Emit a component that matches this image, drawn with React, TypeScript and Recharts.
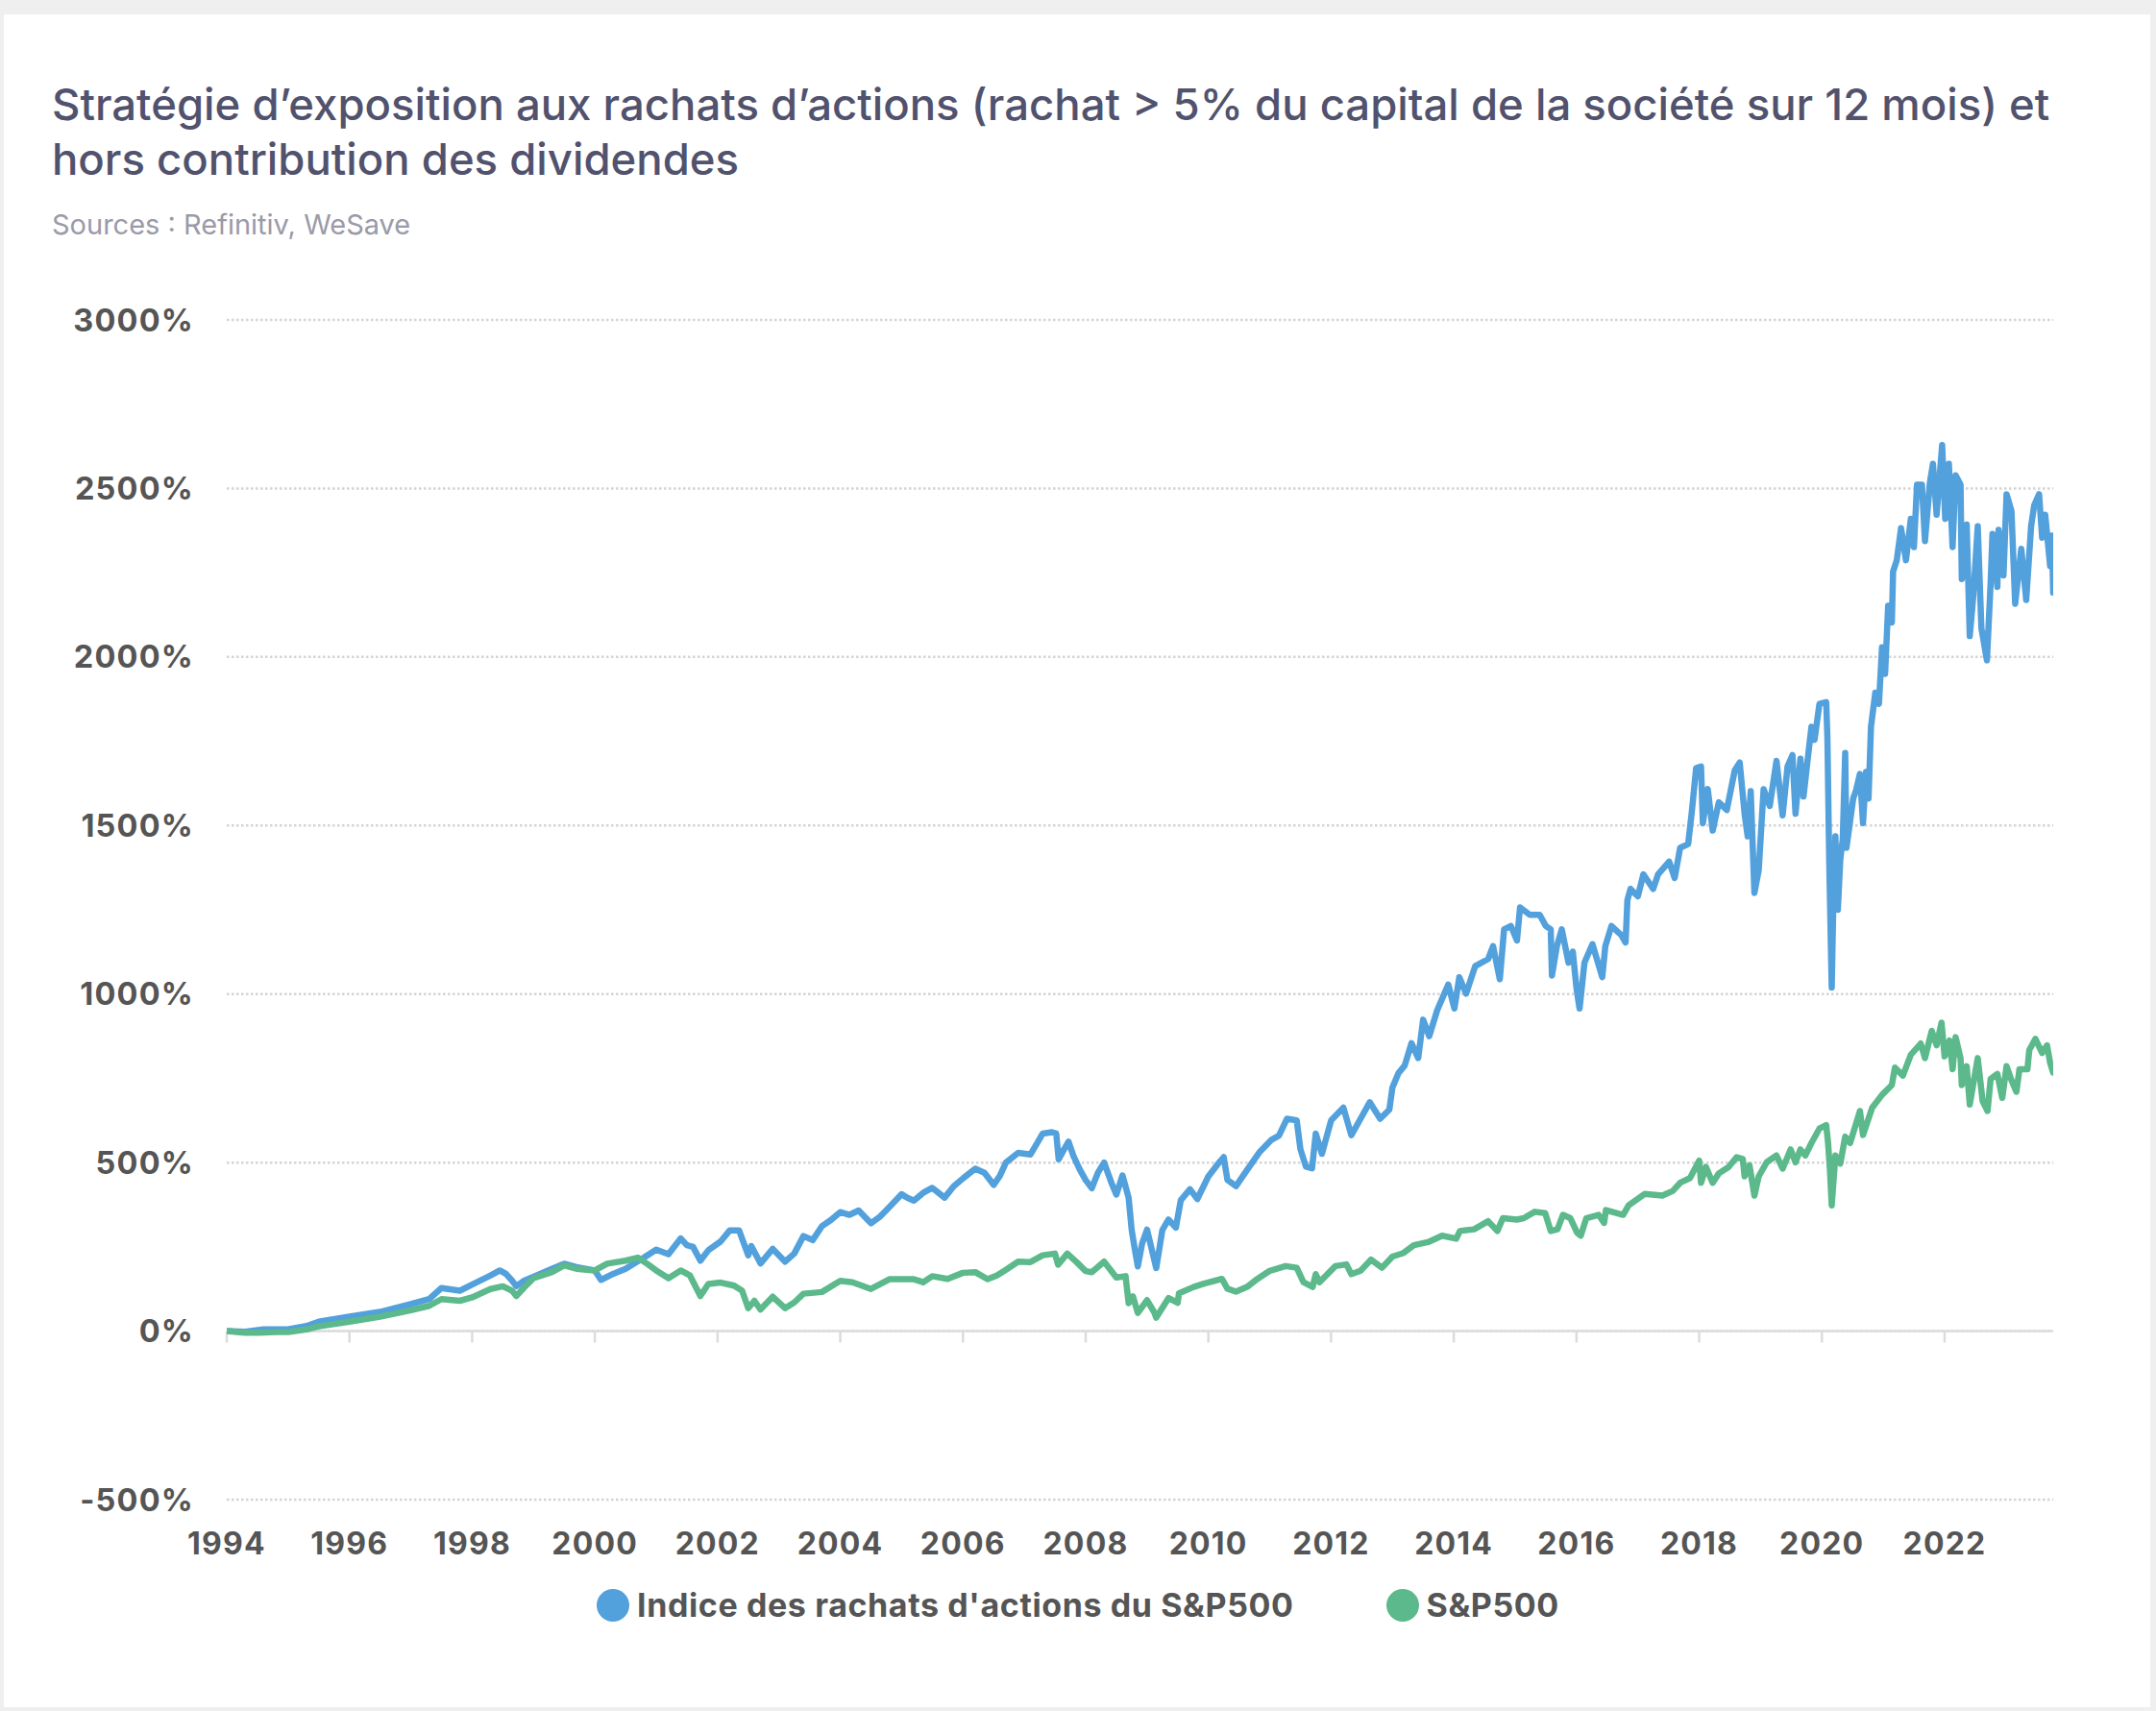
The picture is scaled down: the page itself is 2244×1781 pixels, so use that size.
import React from 'react';
import { LineChart, Line, XAxis, YAxis, CartesianGrid, ReferenceLine, Legend } from 'recharts';

// [year, %]
const buybackIndex: [number, number][] = [
  [1994.0, 0], [1994.3, -2], [1994.6, 5], [1995.0, 5], [1995.3, 15], [1995.5, 28], [1996.0, 43],
  [1996.5, 57], [1997.0, 80], [1997.3, 95], [1997.5, 128], [1997.8, 120], [1998.0, 138],
  [1998.3, 165], [1998.45, 180], [1998.55, 170], [1998.65, 150], [1998.72, 133], [1998.85, 150],
  [1999.0, 161], [1999.3, 185], [1999.5, 200], [1999.7, 190], [2000.0, 180], [2000.1, 152],
  [2000.3, 170], [2000.5, 185], [2000.8, 218], [2001.0, 242], [2001.2, 228], [2001.4, 275],
  [2001.5, 255], [2001.6, 250], [2001.72, 209], [2001.85, 240], [2002.05, 266], [2002.2, 299],
  [2002.35, 299], [2002.5, 225], [2002.55, 252], [2002.7, 201], [2002.9, 244], [2003.1, 206],
  [2003.25, 230], [2003.4, 282], [2003.55, 270], [2003.7, 311], [2003.85, 330], [2004.0, 353],
  [2004.15, 345], [2004.3, 358], [2004.5, 320], [2004.65, 340], [2004.8, 368], [2005.0, 406],
  [2005.1, 395], [2005.2, 387], [2005.35, 410], [2005.5, 425], [2005.7, 396], [2005.85, 430],
  [2006.0, 453], [2006.2, 482], [2006.35, 470], [2006.5, 434], [2006.6, 460], [2006.7, 500],
  [2006.9, 529], [2007.1, 524], [2007.2, 555], [2007.3, 586], [2007.45, 590], [2007.52, 586],
  [2007.56, 510], [2007.65, 540], [2007.72, 562], [2007.8, 520], [2007.9, 481], [2008.0, 448],
  [2008.1, 424], [2008.2, 470], [2008.3, 500], [2008.42, 440], [2008.5, 405], [2008.6, 462],
  [2008.7, 396], [2008.75, 300], [2008.8, 244], [2008.85, 192], [2008.92, 260], [2009.0, 301],
  [2009.08, 240], [2009.15, 187], [2009.25, 300], [2009.35, 331], [2009.47, 307], [2009.55, 388],
  [2009.7, 421], [2009.82, 392], [2010.0, 459], [2010.16, 497], [2010.25, 516], [2010.31, 449],
  [2010.45, 430], [2010.63, 478], [2010.83, 530], [2011.03, 568], [2011.15, 580], [2011.28, 630],
  [2011.44, 625], [2011.5, 540], [2011.59, 488], [2011.69, 483], [2011.75, 586], [2011.85, 526],
  [2012.0, 625], [2012.2, 663], [2012.33, 581], [2012.48, 630], [2012.63, 679], [2012.8, 630],
  [2012.95, 657], [2013.0, 723], [2013.1, 766], [2013.2, 788], [2013.31, 854], [2013.42, 810],
  [2013.5, 924], [2013.6, 875], [2013.73, 952], [2013.91, 1028], [2014.01, 957], [2014.09, 1050],
  [2014.2, 1001], [2014.35, 1083], [2014.56, 1104], [2014.64, 1142], [2014.75, 1044], [2014.82, 1192],
  [2014.93, 1202], [2015.03, 1159], [2015.08, 1257], [2015.24, 1235], [2015.4, 1235], [2015.5, 1202],
  [2015.58, 1192], [2015.6, 1055], [2015.68, 1142], [2015.76, 1192], [2015.87, 1093], [2015.94, 1126],
  [2016.0, 1017], [2016.05, 957], [2016.13, 1093], [2016.26, 1148], [2016.42, 1050], [2016.47, 1142],
  [2016.57, 1202], [2016.73, 1175], [2016.8, 1153], [2016.83, 1279], [2016.88, 1312], [2017.0, 1290],
  [2017.09, 1355], [2017.25, 1312], [2017.33, 1355], [2017.51, 1393], [2017.6, 1344], [2017.69, 1434],
  [2017.82, 1445], [2017.88, 1541], [2017.95, 1670], [2018.03, 1675], [2018.06, 1507], [2018.14, 1608],
  [2018.22, 1485], [2018.32, 1569], [2018.45, 1546], [2018.58, 1664], [2018.66, 1687], [2018.74, 1535],
  [2018.79, 1468], [2018.84, 1602], [2018.9, 1300], [2018.97, 1367], [2019.05, 1608], [2019.15, 1558],
  [2019.26, 1692], [2019.36, 1530], [2019.44, 1675], [2019.52, 1709], [2019.57, 1535], [2019.65, 1698],
  [2019.7, 1586], [2019.78, 1715], [2019.83, 1793], [2019.88, 1754], [2019.96, 1861], [2020.07, 1866],
  [2020.09, 1760], [2020.12, 1389], [2020.16, 1019], [2020.19, 1300], [2020.22, 1468], [2020.26, 1250],
  [2020.3, 1400], [2020.34, 1460], [2020.38, 1715], [2020.4, 1434], [2020.45, 1500], [2020.51, 1580],
  [2020.55, 1600], [2020.62, 1653], [2020.67, 1507], [2020.72, 1659], [2020.76, 1580], [2020.8, 1793],
  [2020.87, 1894], [2020.93, 1861], [2020.98, 2029], [2021.03, 1950], [2021.08, 2152], [2021.14, 2102],
  [2021.16, 2253], [2021.22, 2287], [2021.29, 2382], [2021.37, 2287], [2021.45, 2410], [2021.5, 2326],
  [2021.55, 2511], [2021.63, 2511], [2021.68, 2344], [2021.76, 2517], [2021.81, 2573], [2021.87, 2422],
  [2021.96, 2629], [2022.01, 2410], [2022.07, 2573], [2022.13, 2326], [2022.18, 2539], [2022.26, 2511],
  [2022.28, 2231], [2022.36, 2393], [2022.41, 2062], [2022.47, 2186], [2022.54, 2388], [2022.6, 2085],
  [2022.69, 1990], [2022.75, 2219], [2022.78, 2365], [2022.86, 2208], [2022.88, 2377], [2022.96, 2242],
  [2023.01, 2483], [2023.09, 2433], [2023.15, 2158], [2023.25, 2321], [2023.33, 2169], [2023.41, 2388],
  [2023.46, 2450], [2023.54, 2483], [2023.59, 2354], [2023.64, 2422], [2023.72, 2270], [2023.75, 2360],
  [2023.77, 2191],
];

const sp500: [number, number][] = [
  [1994.0, 0], [1994.3, -5], [1994.5, -5], [1994.8, -3], [1995.0, -3], [1995.3, 5], [1995.5, 14],
  [1996.0, 28], [1996.5, 43], [1997.0, 62], [1997.3, 75], [1997.5, 95], [1997.8, 90], [1998.0, 100],
  [1998.3, 125], [1998.5, 133], [1998.65, 120], [1998.72, 104], [1998.85, 130], [1999.0, 157],
  [1999.3, 175], [1999.5, 195], [1999.7, 185], [2000.0, 180], [2000.2, 200], [2000.5, 209],
  [2000.7, 218], [2000.85, 200], [2001.0, 180], [2001.2, 157], [2001.4, 180], [2001.55, 165],
  [2001.72, 104], [2001.85, 140], [2002.05, 144], [2002.27, 135], [2002.4, 120], [2002.5, 68],
  [2002.6, 90], [2002.7, 64], [2002.9, 102], [2003.1, 68], [2003.25, 85], [2003.4, 111], [2003.7, 116],
  [2004.0, 149], [2004.2, 145], [2004.5, 125], [2004.8, 154], [2005.2, 154], [2005.35, 145],
  [2005.5, 163], [2005.75, 155], [2006.0, 173], [2006.2, 175], [2006.4, 154], [2006.55, 165],
  [2006.7, 182], [2006.9, 206], [2007.1, 205], [2007.3, 225], [2007.5, 230], [2007.55, 197],
  [2007.7, 230], [2007.85, 205], [2008.0, 178], [2008.1, 175], [2008.3, 206], [2008.5, 159],
  [2008.65, 163], [2008.7, 83], [2008.77, 103], [2008.85, 54], [2009.0, 92], [2009.12, 55],
  [2009.15, 40], [2009.35, 98], [2009.5, 84], [2009.52, 112], [2009.76, 131], [2009.93, 141],
  [2010.22, 155], [2010.31, 126], [2010.45, 117], [2010.63, 131], [2010.8, 155], [2011.0, 179],
  [2011.26, 193], [2011.44, 188], [2011.55, 145], [2011.7, 131], [2011.75, 169], [2011.81, 145],
  [2012.07, 193], [2012.25, 198], [2012.33, 169], [2012.48, 179], [2012.65, 212], [2012.83, 188],
  [2013.0, 221], [2013.17, 231], [2013.35, 255], [2013.58, 264], [2013.81, 283], [2014.04, 274],
  [2014.1, 297], [2014.33, 302], [2014.56, 326], [2014.71, 297], [2014.8, 335], [2015.03, 331],
  [2015.14, 335], [2015.32, 354], [2015.49, 350], [2015.58, 297], [2015.69, 302], [2015.78, 345],
  [2015.9, 335], [2016.01, 292], [2016.07, 283], [2016.16, 335], [2016.36, 345], [2016.45, 321],
  [2016.48, 359], [2016.76, 345], [2016.85, 373], [2017.11, 407], [2017.4, 402], [2017.57, 416],
  [2017.69, 440], [2017.85, 454], [2018.0, 506], [2018.03, 440], [2018.11, 487], [2018.22, 440],
  [2018.32, 468], [2018.48, 487], [2018.61, 516], [2018.71, 511], [2018.74, 459], [2018.82, 492],
  [2018.9, 402], [2018.97, 459], [2019.1, 501], [2019.26, 521], [2019.36, 482], [2019.49, 539],
  [2019.57, 501], [2019.65, 539], [2019.73, 521], [2019.83, 558], [2019.96, 601], [2020.07, 611],
  [2020.1, 560], [2020.13, 482], [2020.16, 373], [2020.22, 521], [2020.3, 497], [2020.38, 577],
  [2020.46, 558], [2020.62, 653], [2020.67, 582], [2020.82, 663], [2020.98, 701], [2021.14, 730],
  [2021.19, 782], [2021.32, 758], [2021.45, 820], [2021.61, 853], [2021.68, 810], [2021.79, 891],
  [2021.87, 848], [2021.95, 915], [2022.0, 815], [2022.08, 862], [2022.13, 777], [2022.18, 872],
  [2022.26, 810], [2022.28, 730], [2022.36, 786], [2022.41, 672], [2022.54, 810], [2022.62, 682],
  [2022.7, 653], [2022.75, 748], [2022.86, 763], [2022.94, 692], [2023.01, 786], [2023.09, 744],
  [2023.17, 710], [2023.22, 777], [2023.35, 777], [2023.38, 834], [2023.48, 867], [2023.59, 825],
  [2023.67, 848], [2023.72, 796], [2023.77, 767],
];

const yearTicks = [1994, 1996, 1998, 2000, 2002, 2004, 2006, 2008, 2010, 2012, 2014, 2016, 2018, 2020, 2022];
const pctTicks = [-500, 0, 500, 1000, 1500, 2000, 2500, 3000];

const seriesNames = ["Indice des rachats d'actions du S&P500", 'S&P500'];
const BLUE = '#52a0dc';
const GREEN = '#5bb98b';
const FONT = 'Inter, "Noto Sans", sans-serif';

const toRows = (pts: [number, number][]) => pts.map(([year, value]) => ({ year, value }));

function LegendContent() {
  const items = [
    { label: seriesNames[0], color: BLUE },
    { label: seriesNames[1], color: GREEN },
  ];
  return (
    <div style={{ display: 'flex', justifyContent: 'center', gap: 96, fontFamily: FONT }}>
      {items.map((it) => (
        <div key={it.label} style={{ display: 'flex', alignItems: 'center' }}>
          <span style={{ width: 34, height: 34, borderRadius: '50%', background: it.color, marginRight: 8 }} />
          <span style={{ fontSize: 34, fontWeight: 700, color: '#555', letterSpacing: 0.6 }}>{it.label}</span>
        </div>
      ))}
    </div>
  );
}

export default function App() {
  React.useEffect(() => {
    document.body.style.margin = '0';
  }, []);

  return (
    <div style={{ position: 'relative', width: 2244, height: 1781, background: '#efefef', fontFamily: FONT }}>
      <div style={{ position: 'absolute', left: 4, top: 15, width: 2234, height: 1762, background: '#fff' }} />
      <div
        style={{
          position: 'absolute',
          left: 54,
          top: 80,
          fontSize: 45.5,
          lineHeight: '57px',
          fontWeight: 500,
          color: '#51526d',
          whiteSpace: 'nowrap',
        }}
      >
        Stratégie d’exposition aux rachats d’actions (rachat &gt; 5% du capital de la société sur 12 mois) et
        <br />
        hors contribution des dividendes
      </div>
      <div style={{ position: 'absolute', left: 54, top: 216, fontSize: 29, color: '#9a9aa8' }}>
        Sources : Refinitiv, WeSave
      </div>

      <div style={{ position: 'absolute', left: 0, top: 0 }}>
        <LineChart width={2244} height={1781} margin={{ top: 333, right: 107, bottom: 160, left: 36 }}>
          <CartesianGrid vertical={false} stroke="#d4d4d4" strokeWidth={2.5} strokeDasharray="2.5 2.5" />
          <XAxis
            type="number"
            dataKey="year"
            domain={[1994, 2023.77]}
            ticks={yearTicks}
            allowDataOverflow
            height={60}
            axisLine={false}
            tickLine={false}
            tickSize={0}
            tickMargin={34}
            tick={{ fontSize: 32, fontWeight: 700, fill: '#555', fontFamily: FONT, letterSpacing: 1.2 }}
          />
          <YAxis
            type="number"
            domain={[-500, 3000]}
            ticks={pctTicks}
            width={200}
            axisLine={false}
            tickLine={false}
            tickSize={0}
            tickMargin={34}
            tickFormatter={(v) => `${v}%`}
            tick={{ fontSize: 32.5, fontWeight: 700, fill: '#555', fontFamily: FONT, letterSpacing: 1.2 }}
          />
          <ReferenceLine y={0} stroke="#dcdcdc" strokeWidth={2.5} />
          {yearTicks.map((t) => (
            <ReferenceLine
              key={t}
              segment={[{ x: t, y: 0 }, { x: t, y: -34 }]}
              stroke="#dcdcdc"
              strokeWidth={2.5}
            />
          ))}
          <Line
            data={toRows(buybackIndex)}
            dataKey="value"
            name={seriesNames[0]}
            type="linear"
            stroke={BLUE}
            strokeWidth={6.5}
            strokeLinejoin="round"
            strokeLinecap="round"
            dot={false}
            activeDot={false}
            isAnimationActive={false}
          />
          <Line
            data={toRows(sp500)}
            dataKey="value"
            name={seriesNames[1]}
            type="linear"
            stroke={GREEN}
            strokeWidth={6.5}
            strokeLinejoin="round"
            strokeLinecap="round"
            dot={false}
            activeDot={false}
            isAnimationActive={false}
          />
          <Legend
            layout="horizontal"
            verticalAlign="middle"
            align="center"
            content={() => <LegendContent />}
            wrapperStyle={{ top: 1650, left: 0, width: 2244 }}
          />
        </LineChart>
      </div>
    </div>
  );
}
